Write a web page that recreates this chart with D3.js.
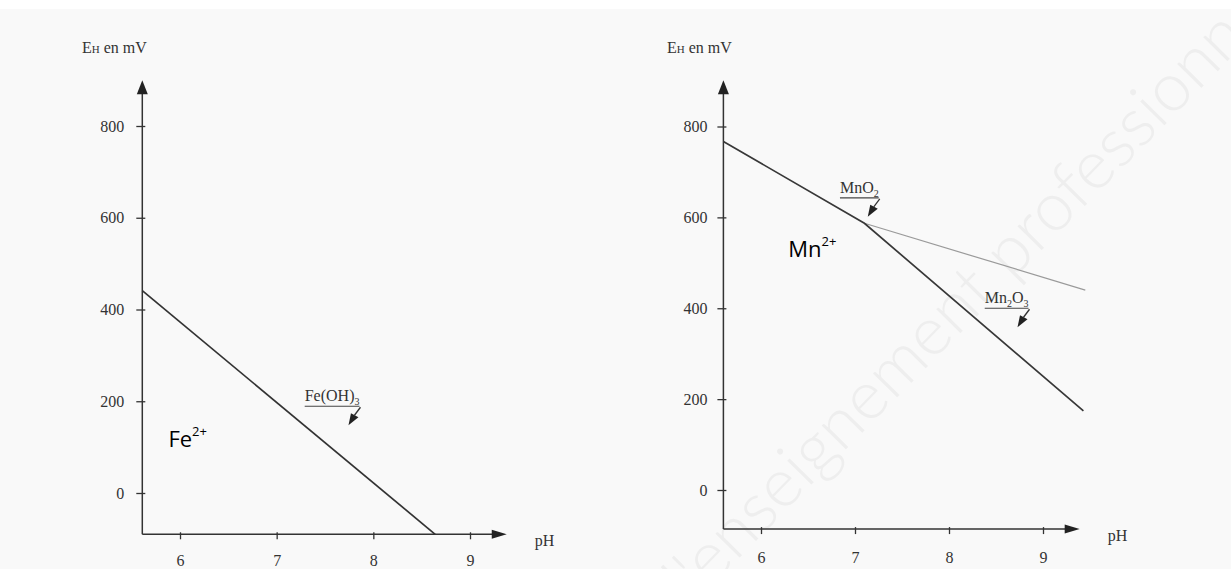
<!DOCTYPE html>
<html>
<head>
<meta charset="utf-8">
<script src="https://cdn.jsdelivr.net/npm/d3@7/dist/d3.min.js"></script>
<style>
  html, body { margin: 0; padding: 0; background: #ffffff; }
  svg { display: block; }
</style>
</head>
<body>
<svg id="chart" width="1231" height="569"></svg>
<script>
// ---------- DATA ----------
const yTicks = [0, 200, 400, 600, 800];
const xTicks = [6, 7, 8, 9];
const yAxisLabel = ["E", "H", " en mV"];
const xAxisLabel = "pH";

// Fe panel
const feBoundary = [ {ph: 5.61, eh: 441}, {ph: 8.64, eh: -90} ];
const feLabels = [ {ph: 7.29, eh: 200, parts: [["Fe(OH)",""],["3","sub"]]} ];
const feIon = {ph: 5.88, eh: 100, main: "Fe", sup: "2+"};

// Mn panel
const mnBoundary = [ {ph: 5.6, eh: 767}, {ph: 7.1, eh: 587}, {ph: 9.43, eh: 174} ];
const mnO2Boundary = [ {ph: 7.1, eh: 587}, {ph: 9.45, eh: 440} ];
const mnLabels = [
  {ph: 6.84, eh: 654, parts: [["Mn",""],["O",""],["2","sub"]]},
  {ph: 8.38, eh: 411, parts: [["Mn",""],["2","sub"],["O",""],["3","sub"]]}
];
const mnIon = {ph: 6.29, eh: 513, main: "Mn", sup: "2+"};

// ---------- DRAW ----------
const svg = d3.select("#chart");
svg.append("rect").attr("x",0).attr("y",9).attr("width",1231).attr("height",560).attr("fill","#f9f9f9");

// watermark
svg.append("text")
  .attr("transform","translate(692,606) rotate(-45.5)")
  .attr("font-family","Lato, 'DejaVu Sans'")
  .attr("font-weight",300)
  .attr("font-size",68)
  .attr("fill","#eeeeee")
  .text("l'enseignement professionnel");

const serif = "'Liberation Serif', 'DejaVu Serif', serif";
const sans = "'Open Sans', 'Noto Sans', sans-serif";
const ink = "#333";

function panel(cfg) {
  const x = d3.scaleLinear().domain([6, 9]).range(cfg.xr);
  const y = d3.scaleLinear().domain([0, 800]).range(cfg.yr);
  const g = svg.append("g");
  const x0 = x(cfg.phMin), yBase = y(cfg.ehMin), yTop = y(cfg.ehMax), xEnd = x(cfg.phMax);

  g.append("line").attr("x1",x0).attr("x2",x0).attr("y1",yBase).attr("y2",yTop+10)
    .attr("stroke",ink).attr("stroke-width",1.5);
  g.append("line").attr("x1",x0).attr("x2",xEnd-12).attr("y1",yBase).attr("y2",yBase)
    .attr("stroke",ink).attr("stroke-width",1.5);
  g.append("path").attr("d",`M${x0},${yTop} L${x0-5.5},${yTop+14} L${x0+5.5},${yTop+14} Z`).attr("fill","#222");
  g.append("path").attr("d",`M${xEnd},${yBase} L${xEnd-15},${yBase-4.5} L${xEnd-15},${yBase+4.5} Z`).attr("fill","#222");

  const ya = g.append("g").attr("transform",`translate(${x0},0)`)
    .call(d3.axisLeft(y).tickValues(yTicks).tickFormat(d3.format("d")).tickSize(6).tickPadding(cfg.yPad));
  ya.select(".domain").remove();
  ya.selectAll(".tick line").attr("x1",3).attr("x2",-6).attr("stroke",ink).attr("stroke-width",1.3);
  ya.selectAll(".tick text").attr("font-family",serif).attr("font-size",16).attr("fill","#333");

  const xa = g.append("g").attr("transform",`translate(0,${yBase})`)
    .call(d3.axisBottom(x).tickValues(xTicks).tickFormat(d3.format("d")).tickSize(5));
  xa.select(".domain").remove();
  xa.selectAll(".tick line").attr("y1",-2).attr("y2",5).attr("stroke",ink).attr("stroke-width",1.3);
  xa.selectAll(".tick text").attr("y",cfg.xLabY).attr("dy",0)
    .attr("font-family",serif).attr("font-size",16).attr("fill","#333");

  const t = g.append("text").attr("x",cfg.titleX).attr("y",53)
    .attr("font-family",serif).attr("font-size",16).attr("fill","#333");
  t.append("tspan").text(yAxisLabel[0]);
  t.append("tspan").attr("font-size",11).text(yAxisLabel[1]);
  t.append("tspan").text(yAxisLabel[2]);
  g.append("text").attr("x",xEnd+28).attr("y",yBase+12)
    .attr("font-family",serif).attr("font-size",16).attr("fill","#333").text(xAxisLabel);

  const line = d3.line().x(d => x(d.ph)).y(d => y(d.eh));
  return {g, x, y, line};
}

function arrowMark(g, ex, ey) {
  g.append("path").attr("d",`M${ex+1},${ey+1} Q${ex-2},${ey+5} ${ex-5},${ey+9}`)
    .attr("fill","none").attr("stroke","#333").attr("stroke-width",1.3);
  g.append("path").attr("d",`M${ex-11},${ey+19} L${ex-8.5},${ey+7} L${ex-1},${ey+11} Z`).attr("fill","#222");
}

function speciesLabel(p, ph, eh, parts) {
  const tx = p.x(ph), ty = p.y(eh);
  const t = p.g.append("text").attr("x",tx).attr("y",ty)
    .attr("font-family",serif).attr("font-size",16).attr("fill","#333");
  let shifted = false;
  parts.forEach(([s, kind]) => {
    if (kind === "sub") {
      t.append("tspan").attr("font-size",10).attr("dy",shifted ? 0 : 4).text(s);
      shifted = true;
    } else {
      t.append("tspan").attr("dy",shifted ? -4 : 0).text(s);
      shifted = false;
    }
  });
  const w = t.node().getComputedTextLength();
  p.g.append("line").attr("x1",tx).attr("x2",tx+w).attr("y1",ty+5).attr("y2",ty+5)
    .attr("stroke","#444").attr("stroke-width",1.2);
  arrowMark(p.g, tx+w, ty+5);
}

function ionLabel(p, d) {
  const t = p.g.append("text").attr("x",p.x(d.ph)).attr("y",p.y(d.eh))
    .attr("font-family",sans).attr("font-size",22).attr("fill","#000");
  t.append("tspan").text(d.main);
  t.append("tspan").attr("font-size",13).attr("dy",-11).text(d.sup);
}

// Left panel (Fe)
const L = panel({xr:[180,470], yr:[493,126], phMin:5.61, phMax:9.38, ehMin:-90, ehMax:900, yPad:12, titleX:82, xLabY:32});
L.g.append("path").datum(feBoundary).attr("d",L.line)
  .attr("fill","none").attr("stroke","#333").attr("stroke-width",1.7);
feLabels.forEach(d => speciesLabel(L, d.ph, d.eh, d.parts));
ionLabel(L, feIon);

// Right panel (Mn)
const R = panel({xr:[761,1043], yr:[490,126.5], phMin:5.6, phMax:9.39, ehMin:-86, ehMax:902, yPad:10, titleX:667, xLabY:34});
R.g.append("path").datum(mnO2Boundary).attr("d",R.line)
  .attr("fill","none").attr("stroke","#9a9a9a").attr("stroke-width",1.2);
R.g.append("path").datum(mnBoundary).attr("d",R.line)
  .attr("fill","none").attr("stroke","#383838").attr("stroke-width",1.7);
mnLabels.forEach(d => speciesLabel(R, d.ph, d.eh, d.parts));
ionLabel(R, mnIon);
</script>
</body>
</html>
